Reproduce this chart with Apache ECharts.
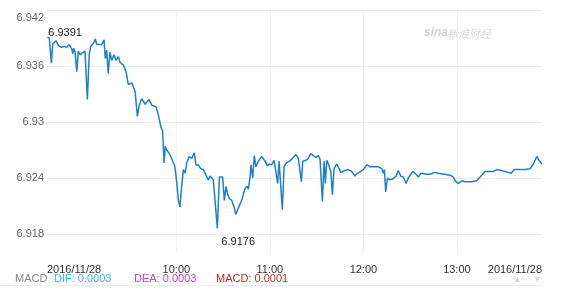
<!DOCTYPE html>
<html><head><meta charset="utf-8">
<script src="https://cdn.jsdelivr.net/npm/echarts@6/dist/echarts.min.js"></script>
<style>html,body{margin:0;padding:0;background:#fff}#c{width:580px;height:300px}</style>
</head><body><div id="c"></div>
<script>
// minutes since midnight
const times = [
517.2,518.5,519.8,520.7,522.8,524.3,526.4,527.9,529.6,531.3,
532.9,533.5,534.1,535.0,536.1,537.1,538.2,539.7,541.4,542.9,
544.1,545.0,546.7,548.0,548.9,552.1,553.6,554.4,555.3,556.3,
557.4,558.5,560.0,561.3,562.8,563.8,566.0,567.7,569.2,571.4,
572.4,573.5,575.0,576.2,577.8,579.9,582.5,584.2,587.0,588.4,
590.0,591.2,592.1,592.9,593.8,594.8,595.9,597.7,599.1,600.2,
601.3,602.3,603.4,604.5,605.6,606.6,608.3,609.9,611.5,612.6,
614.1,615.6,617.3,619.0,620.5,621.6,623.7,624.8,626.3,627.6,
629.7,630.8,631.9,632.7,634.0,635.5,637.0,638.1,639.8,641.9,
644.1,645.5,646.2,647.3,647.9,649.0,650.0,651.1,652.6,654.8,
656.9,658.4,659.7,661.2,662.7,663.9,665.0,665.9,667.0,668.0,
669.1,670.4,672.5,674.0,675.5,676.8,678.3,679.4,680.2,681.1,
683.2,684.7,686.2,687.9,689.6,691.1,692.2,693.0,693.7,694.8,
695.6,696.5,697.8,699.1,700.1,701.2,702.9,704.7,705.5,708.2,
710.3,712.5,714.6,716.1,718.3,720.0,722.2,724.3,726.8,729.6,
731.8,732.8,733.5,734.3,735.4,736.7,738.8,741.0,742.4,744.0,
745.6,747.4,748.8,751.7,753.8,755.3,756.8,760.7,762.8,766.0,
768.1,769.2,775.6,777.7,779.3,780.9,783.1,785.2,789.5,792.7,
794.9,798.1,803.4,805.6,808.8,813.0,814.8,816.9,820.5,823.7,
826.9,829.1,831.2,832.7,834.5
];
const prices = [
6.9391,6.9390,6.9363,6.9384,6.9387,6.9382,6.9380,6.9381,6.9380,6.9383,
6.9378,6.9373,6.9379,6.9375,6.9354,6.9376,6.9372,6.9374,6.9376,6.9324,
6.9372,6.9381,6.9384,6.9389,6.9383,6.9383,6.9388,6.9368,6.9377,6.9352,
6.9375,6.9366,6.9372,6.9366,6.9370,6.9364,6.9361,6.9354,6.9340,6.9342,
6.9344,6.9333,6.9306,6.9318,6.9325,6.9319,6.9324,6.9318,6.9316,6.9308,
6.9295,6.9290,6.9256,6.9274,6.9270,6.9272,6.9265,6.9258,6.9252,6.9236,
6.9216,6.9209,6.9231,6.9249,6.9245,6.9256,6.9263,6.9261,6.9267,6.9254,
6.9254,6.9250,6.9249,6.9243,6.9238,6.9242,6.9238,6.9236,6.9186,6.9241,
6.9241,6.9216,6.9231,6.9224,6.9218,6.9216,6.9209,6.9201,6.9208,6.9216,
6.9229,6.9231,6.9228,6.9241,6.9254,6.9240,6.9264,6.9252,6.9258,6.9263,
6.9258,6.9253,6.9255,6.9254,6.9259,6.9260,6.9234,6.9258,6.9256,6.9206,
6.9252,6.9256,6.9258,6.9260,6.9263,6.9265,6.9261,6.9261,6.9236,6.9258,
6.9259,6.9261,6.9266,6.9264,6.9262,6.9264,6.9260,6.9261,6.9215,6.9258,
6.9234,6.9259,6.9254,6.9247,6.9222,6.9250,6.9255,6.9249,6.9246,6.9248,
6.9249,6.9247,6.9242,6.9245,6.9247,6.9249,6.9254,6.9252,6.9252,6.9252,
6.9250,6.9245,6.9249,6.9225,6.9240,6.9238,6.9239,6.9242,6.9248,6.9242,
6.9241,6.9234,6.9240,6.9247,6.9244,6.9241,6.9245,6.9244,6.9244,6.9246,
6.9245,6.9243,6.9243,6.9241,6.9236,6.9234,6.9237,6.9236,6.9236,6.9237,
6.9241,6.9247,6.9247,6.9249,6.9248,6.9246,6.9245,6.9249,6.9249,6.9249,
6.9250,6.9255,6.9263,6.9259,6.9255
];
const yTicks = [6.918, 6.924, 6.93, 6.936, 6.942];
const xTicks = [600, 660, 720, 780];
const xRange = [517, 834.6];
const yRange = [6.91596, 6.942];
const dateLabel = '2016/11/28';
const extremeLabels = ['6.9391', '6.9176'];
const macdNames = ['MACD', 'DIF: 0.0003', 'DEA: 0.0003', 'MACD: 0.0001'];

const FONT = 'Arial, "Liberation Sans", sans-serif';
const seriesData = times.map((t, i) => [t, prices[i]]);
const fmtTime = v => {
  const h = Math.floor(v / 60), m = Math.round(v - h * 60);
  return (h < 10 ? '0' : '') + h + ':' + (m < 10 ? '0' : '') + m;
};

const chart = echarts.init(document.getElementById('c'), null, {renderer: 'canvas'});
chart.setOption({
  animation: false,
  backgroundColor: '#fff',
  grid: {left: 47, right: 38, top: 10, bottom: 47, containLabel: false},
  xAxis: {
    type: 'value', min: xRange[0], max: xRange[1],
    axisLine: {show: false},
    axisTick: {show: false, customValues: xTicks},
    splitLine: {show: true, lineStyle: {color: '#efefef', width: 1}},
    axisLabel: {
      customValues: [xRange[0]].concat(xTicks, [xRange[1]]),
      alignMinLabel: 'left', alignMaxLabel: 'right',
      color: '#333', fontSize: 11, fontFamily: FONT, margin: 11,
      formatter: v => (v === xRange[0] || v === xRange[1]) ? dateLabel : fmtTime(v)
    }
  },
  yAxis: {
    type: 'value', min: yRange[0], max: yRange[1],
    axisLine: {show: false},
    axisTick: {show: false, customValues: yTicks},
    splitLine: {show: true, lineStyle: {color: '#efefef', width: 1}},
    axisLabel: {
      customValues: yTicks,
      color: '#666', fontSize: 11, fontFamily: FONT, margin: 3,
      formatter: v => Math.abs(v - yRange[1]) < 1e-9 ? '{t|' + String(v) + '}' : String(v),
      rich: {t: {color: '#666', fontSize: 11, fontFamily: FONT, padding: [15, 0, 0, 0]}}
    }
  },
  series: [{
    type: 'line',
    data: seriesData,
    showSymbol: false,
    symbol: 'none',
    lineStyle: {color: '#1f80c8', width: 1.5},
    markPoint: {
      symbol: 'circle', symbolSize: 0,
      data: [
        {type: 'max', valueIndex: 1, label: {formatter: extremeLabels[0], position: [1, 1], align: 'left', verticalAlign: 'bottom'}},
        {type: 'min', valueIndex: 1, label: {formatter: extremeLabels[1], position: [4, 14], align: 'left', verticalAlign: 'middle'}}
      ],
      label: {show: true, color: '#222', fontSize: 11, fontFamily: FONT}
    }
  }],
  graphic: [
    {type: 'text', left: 15, top: 273, style: {text: macdNames[0], fill: '#888', font: '11px ' + FONT}},
    {type: 'text', left: 54, top: 273, style: {text: macdNames[1], fill: '#2cc3e8', font: '11px ' + FONT}},
    {type: 'text', left: 134, top: 273, style: {text: macdNames[2], fill: '#cc44c4', font: '11px ' + FONT}},
    {type: 'text', left: 216, top: 273, style: {text: macdNames[3], fill: '#c72a2a', font: '11px ' + FONT}},
    {type: 'line', shape: {x1: 0, y1: 285.5, x2: 541, y2: 285.5}, style: {stroke: '#eeeeee', lineWidth: 1}},
    {type: 'text', left: 513, top: 275, style: {text: '▲', fill: '#d8d8d8', font: '9px ' + FONT}},
    {type: 'text', left: 533, top: 275, style: {text: '▼', fill: '#d8d8d8', font: '9px ' + FONT}},
    {type: 'text', left: 424, top: 27, style: {text: 'sina', fill: '#d4d4d4', font: 'italic bold 12px ' + FONT}},
    {type: 'text', left: 447, top: 28, style: {text: '新浪财经', fill: '#d8d8d8', font: 'italic 11px "Noto Sans CJK SC", sans-serif'}}
  ]
});
</script>
</body></html>
